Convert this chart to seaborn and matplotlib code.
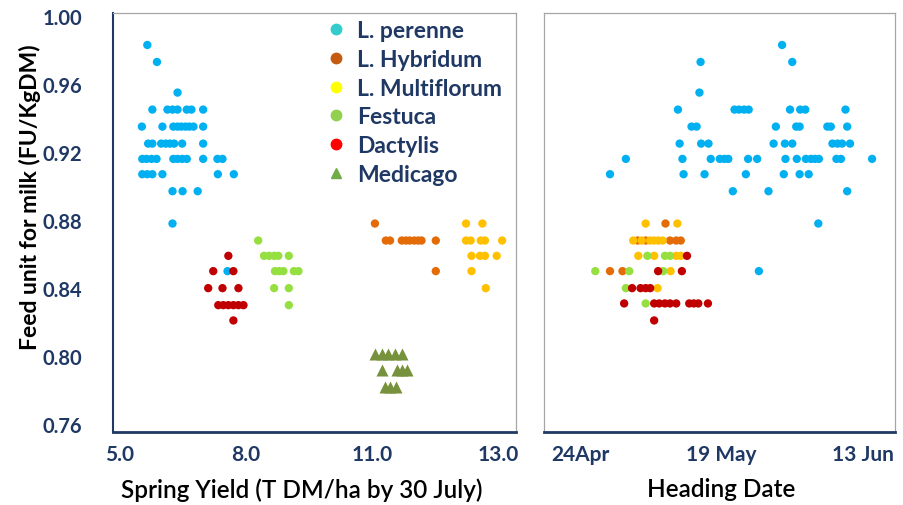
import numpy as np
import pandas as pd
import matplotlib
matplotlib.use('Agg')
import matplotlib.pyplot as plt
from matplotlib.lines import Line2D
import seaborn as sns

# species in drawing order (later ones sit on top)
species = ['L. perenne', 'L. Hybridum', 'L. Multiflorum', 'Festuca', 'Dactylis', 'Medicago']

# ---- left panel: spring yield vs feed unit ----
perenne_yield = [5.65, 5.88, 6.37,
                 5.77, 6.13, 6.25, 6.37, 6.59, 6.70, 6.98,
                 5.52, 6.01, 6.27, 6.37, 6.46, 6.56, 6.65, 6.75, 6.98,
                 5.67, 5.77, 5.98, 6.09, 6.19, 6.29, 6.48, 6.98,
                 5.53, 5.63, 5.75, 5.87, 6.27, 6.37, 6.48, 6.59, 6.98, 7.32, 7.44,
                 5.53, 5.65, 5.77, 6.01, 7.33, 7.71,
                 6.25, 6.49, 6.85, 6.25, 7.56]
perenne_fu = [0.983, 0.973, 0.955,
              0.945, 0.945, 0.945, 0.945, 0.945, 0.945, 0.945,
              0.935, 0.935, 0.935, 0.935, 0.935, 0.935, 0.935, 0.935, 0.935,
              0.925, 0.925, 0.925, 0.925, 0.925, 0.925, 0.925, 0.925,
              0.916, 0.916, 0.916, 0.916, 0.916, 0.916, 0.916, 0.916, 0.916, 0.916, 0.916,
              0.907, 0.907, 0.907, 0.907, 0.907, 0.907,
              0.897, 0.897, 0.897, 0.878, 0.850]

hybridum_yield = [11.07, 11.33, 11.43, 11.71, 11.81, 11.90, 12.01, 12.10, 12.18, 12.52, 12.52]
hybridum_fu = [0.878, 0.868, 0.868, 0.868, 0.868, 0.868, 0.868, 0.868, 0.868, 0.868, 0.850]

multi_yield = [13.24, 13.63, 13.24, 13.35, 13.59, 13.69, 14.10, 13.37, 13.57, 13.69, 13.97, 13.37, 13.71]
multi_fu = [0.878, 0.878, 0.868, 0.868, 0.868, 0.868, 0.868, 0.859, 0.859, 0.859, 0.859, 0.850, 0.840]

festuca_yield = [8.29, 8.43, 8.55, 8.67, 8.77, 9.02, 8.69, 8.79, 8.89, 9.14, 9.25, 8.67, 9.02, 9.02]
festuca_fu = [0.868, 0.859, 0.859, 0.859, 0.859, 0.859, 0.850, 0.850, 0.850, 0.850, 0.850, 0.840, 0.840, 0.830]

dactylis_yield = [7.58, 7.22, 7.70, 7.10, 7.44, 7.82, 7.34, 7.46, 7.58, 7.70, 7.82, 7.94, 7.70]
dactylis_fu = [0.859, 0.850, 0.850, 0.840, 0.840, 0.840, 0.830, 0.830, 0.830, 0.830, 0.830, 0.830, 0.821]

medicago_yield = [11.07, 11.23, 11.39, 11.55, 11.71, 11.23, 11.59, 11.71, 11.83, 11.31, 11.44, 11.57]
medicago_fu = [0.801, 0.801, 0.801, 0.801, 0.801, 0.792, 0.792, 0.792, 0.792, 0.782, 0.782, 0.782]

# ---- right panel: heading date (day of year) vs feed unit ----
perenne_day = [149.7, 135.3, 151.5, 135.1,
               131.3, 141.3, 142.1, 143.0, 143.8, 151.1, 152.9, 153.8, 160.9,
               133.7, 134.6, 148.6, 152.2, 152.8, 157.7, 158.3, 161.2,
               131.6, 135.4, 136.7, 148.2, 150.2, 151.5, 158.6, 159.5, 160.3, 161.7,
               122.1, 132.1, 137.1, 138.7, 139.5, 140.2, 143.7, 145.3, 150.3, 152.3,
               153.9, 154.8, 155.5, 156.2, 159.3, 160.1, 165.6,
               119.3, 132.3, 136.0, 143.3, 150.0, 152.8, 154.4,
               141.0, 147.3, 161.2, 156.1, 145.6]
perenne_fu_d = [0.983, 0.973, 0.973, 0.955,
                0.945, 0.945, 0.945, 0.945, 0.945, 0.945, 0.945, 0.945, 0.945,
                0.935, 0.935, 0.935, 0.935, 0.935, 0.935, 0.935, 0.935,
                0.925, 0.925, 0.925, 0.925, 0.925, 0.925, 0.925, 0.925, 0.925, 0.925,
                0.916, 0.916, 0.916, 0.916, 0.916, 0.916, 0.916, 0.916, 0.916, 0.916,
                0.916, 0.916, 0.916, 0.916, 0.916, 0.916, 0.916,
                0.907, 0.907, 0.907, 0.907, 0.907, 0.907, 0.907,
                0.897, 0.897, 0.897, 0.878, 0.850]

hybridum_day = [129.1, 124.2, 125.6, 129.9, 131.0, 131.8, 119.3, 121.5]
hybridum_fu_d = [0.878, 0.868, 0.868, 0.868, 0.868, 0.868, 0.850, 0.850]

multi_day = [125.6, 131.2, 123.4, 124.9, 126.4, 127.1, 127.8, 128.6,
             124.3, 127.1, 131.0, 131.8, 130.0, 127.7]
multi_fu_d = [0.878, 0.878, 0.868, 0.868, 0.868, 0.868, 0.868, 0.868,
              0.859, 0.859, 0.859, 0.859, 0.850, 0.840]

festuca_day = [125.9, 129.0, 129.9, 116.7, 122.7, 128.7, 122.1, 125.6]
festuca_fu_d = [0.859, 0.859, 0.859, 0.850, 0.850, 0.850, 0.840, 0.831]

dactylis_day = [132.9, 127.8, 132.0, 123.2, 124.7, 125.6, 126.4,
                121.8, 127.1, 128.0, 129.0, 129.9, 131.0, 133.3, 134.1, 134.9, 136.6, 127.1]
dactylis_fu_d = [0.859, 0.850, 0.850, 0.840, 0.840, 0.840, 0.840,
                 0.831, 0.831, 0.831, 0.831, 0.831, 0.831, 0.831, 0.831, 0.831, 0.831, 0.821]

yield_ticks = [5, 8, 11, 14]
yield_ticklabels = ['5.0', '8.0', '11.0', '13.0']
day_ticks = [114, 139, 164]
day_ticklabels = ['24Apr', '19 May', '13 Jun']
fu_ticks = [0.76, 0.80, 0.84, 0.88, 0.92, 0.96, 1.00]

point_colors = {'L. perenne': '#00B0F0', 'L. Hybridum': '#E36C09', 'L. Multiflorum': '#FFC000',
                'Festuca': '#95E040', 'Dactylis': '#C00000', 'Medicago': '#76923C'}
legend_colors = {'L. perenne': '#33CCCC', 'L. Hybridum': '#C55A11', 'L. Multiflorum': '#FFFF00',
                 'Festuca': '#92D050', 'Dactylis': '#FF0000', 'Medicago': '#70AD47'}
markers = {s: 'o' for s in species}
markers['Medicago'] = '^'

left = pd.concat([
    pd.DataFrame({'species': 'L. perenne', 'x': perenne_yield, 'y': perenne_fu}),
    pd.DataFrame({'species': 'L. Hybridum', 'x': hybridum_yield, 'y': hybridum_fu}),
    pd.DataFrame({'species': 'L. Multiflorum', 'x': multi_yield, 'y': multi_fu}),
    pd.DataFrame({'species': 'Festuca', 'x': festuca_yield, 'y': festuca_fu}),
    pd.DataFrame({'species': 'Dactylis', 'x': dactylis_yield, 'y': dactylis_fu}),
    pd.DataFrame({'species': 'Medicago', 'x': medicago_yield, 'y': medicago_fu}),
], ignore_index=True)

right = pd.concat([
    pd.DataFrame({'species': 'L. perenne', 'x': perenne_day, 'y': perenne_fu_d}),
    pd.DataFrame({'species': 'L. Hybridum', 'x': hybridum_day, 'y': hybridum_fu_d}),
    pd.DataFrame({'species': 'L. Multiflorum', 'x': multi_day, 'y': multi_fu_d}),
    pd.DataFrame({'species': 'Festuca', 'x': festuca_day, 'y': festuca_fu_d}),
    pd.DataFrame({'species': 'Dactylis', 'x': dactylis_day, 'y': dactylis_fu_d}),
], ignore_index=True)

sns.set_style('white')
plt.rcParams['font.family'] = ['Lato', 'DejaVu Sans']

navy = '#1F3864'
grey = '#A6A6A6'

fig = plt.figure(figsize=(9.04, 5.06), dpi=100)
W, H = 904, 506
ax1 = fig.add_axes([113 / W, (H - 433) / H, (516 - 113) / W, (433 - 14) / H])
ax2 = fig.add_axes([544 / W, (H - 433) / H, (895 - 544) / W, (433 - 14) / H])

for ax, df in [(ax1, left), (ax2, right)]:
    sub = df[df['species'] != 'Medicago']
    sns.scatterplot(data=sub, x='x', y='y', hue='species', palette=point_colors,
                    s=36, linewidth=0, legend=False, ax=ax)
sns.scatterplot(data=left[left['species'] == 'Medicago'], x='x', y='y', color=point_colors['Medicago'],
                marker='^', s=75, linewidth=0, legend=False, ax=ax1)

ylim = (0.7554, 1.0018)
ax1.set_xlim(4.833, 14.43)
ax2.set_xlim(107.64, 169.65)
for ax in (ax1, ax2):
    ax.set_ylim(*ylim)
    ax.set_xlabel('')
    ax.set_ylabel('')
    ax.tick_params(length=0, labelsize=15, labelcolor=navy)
    for side in ['top', 'right', 'left', 'bottom']:
        ax.spines[side].set_visible(True)
        ax.spines[side].set_color(grey)
        ax.spines[side].set_linewidth(0.9)
    ax.spines['bottom'].set_color(navy)
    ax.spines['bottom'].set_linewidth(2.0)

ax1.spines['left'].set_color(navy)
ax1.spines['left'].set_linewidth(1.5)

ax1.set_yticks(fu_ticks)
ax1.set_yticklabels(['%.2f' % v for v in fu_ticks], fontweight='bold', fontsize=14.5)
ax1.set_xticks(yield_ticks)
ax1.set_xticklabels(yield_ticklabels, fontweight='bold')
ax1.tick_params(axis='y', pad=22)
ax1.tick_params(axis='x', pad=9)

ax2.set_yticks([])
ax2.set_xticks(day_ticks)
ax2.set_xticklabels(day_ticklabels, fontweight='bold')
ax2.tick_params(axis='x', pad=9)

fig.text(302 / W, 1 - 490 / H, 'Spring Yield (T DM/ha by 30 July)', ha='center', va='center',
         fontsize=17.5, fontweight='semibold', color='black')
fig.text(721 / W, 1 - 490 / H, 'Heading Date', ha='center', va='center',
         fontsize=17.5, fontweight='semibold', color='black')
fig.text(30 / W, 1 - 197 / H, 'Feed unit for milk (FU/KgDM)', ha='center', va='center',
         rotation=90, fontsize=16.5, fontweight='bold', color='black')

handles = [Line2D([], [], linestyle='none', marker=markers[s], color=legend_colors[s],
                  markersize=7.5) for s in species]
leg = ax1.legend(handles, species, loc='upper left', bbox_to_anchor=((328 - 113) / 403, (433 - 21) / 419),
                 frameon=False, fontsize=16.5, handlelength=0.7, handletextpad=0.55,
                 labelspacing=0.34, borderaxespad=0, borderpad=0)
for t in leg.get_texts():
    t.set_color(navy)
    t.set_fontweight('bold')

fig.savefig('out.png', dpi=100)
